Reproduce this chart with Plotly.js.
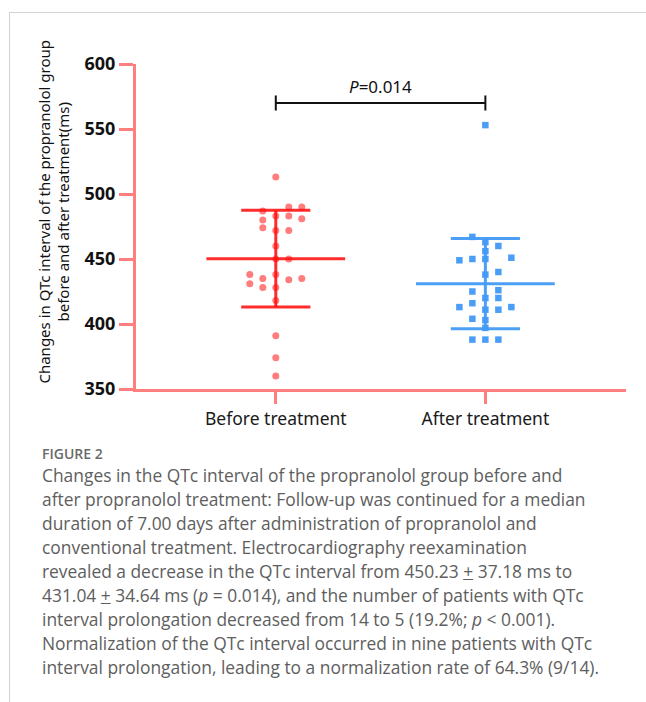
<!DOCTYPE html>
<html>
<head>
<meta charset="utf-8">
<script src="https://cdn.plot.ly/plotly-3.0.1.min.js"></script>
<style>
  html, body { margin: 0; padding: 0; background: #ffffff; }
  #page { position: relative; width: 646px; height: 702px; overflow: hidden; background: #fff; }
  #card { position: absolute; left: 9px; top: 12px; width: 640px; height: 700px;
          border-top: 1px solid #d2d2d2; border-left: 1px solid #d2d2d2; }
  #chart { position: absolute; left: 0; top: 0; width: 646px; height: 440px; }
  #figlabel { position: absolute; left: 42px; top: 447px; font-family: "Open Sans", sans-serif;
              font-size: 14px; font-weight: 600; color: #6a6a6a; line-height: 14px; }
  #caption { position: absolute; left: 42px; top: 463px; font-family: "Open Sans", sans-serif;
             font-size: 17.4px; color: #5e5e5e; line-height: 24px; white-space: nowrap; }
</style>
</head>
<body>
<div id="page">
  <div id="card"></div>
  <div id="chart"></div>
  <div id="figlabel">FIGURE 2</div>
  <div id="caption">
Changes in the QTc interval of the propranolol group before and<br>
after propranolol treatment: Follow-up was continued for a median<br>
duration of 7.00 days after administration of propranolol and<br>
conventional treatment. Electrocardiography reexamination<br>
revealed a decrease in the QTc interval from 450.23 <u>+</u> 37.18 ms to<br>
431.04 <u>+</u> 34.64 ms (<i>p</i> = 0.014), and the number of patients with QTc<br>
interval prolongation decreased from 14 to 5 (19.2%; <i>p</i> &lt; 0.001).<br>
Normalization of the QTc interval occurred in nine patients with QTc<br>
interval prolongation, leading to a normalization rate of 64.3% (9/14).
  </div>
</div>
<script>
// ---- data ----
const categories = ['Before treatment', 'After treatment'];
const beforeValues = [513, 490, 490, 487, 483, 483, 481, 480, 474, 472, 472, 460, 450, 450,
                      438, 438, 435, 434, 435, 431, 428, 428, 418, 391, 374, 360];
const beforeSlots  = [0, 1, 2, -1, 0, 1, 2, -1, -1, 0, 1, 0, 0, 1,
                      -2, 0, -1, 1, 2, -2, -1, 0, 0, 0, 0, 0];
const afterValues  = [553, 467, 463, 460, 456, 449, 450, 450, 451, 440, 438, 425, 426,
                      420, 420, 413, 416, 411, 411, 413, 404, 403, 397, 388, 388, 388];
const afterSlots   = [0, -1, 0, 1, 0, -2, -1, 0, 2, 1, 0, -1, 1,
                      0, 1, -2, -1, 0, 1, 2, -1, 0, 0, -1, 0, 1];
const groupMeans = [450.23, 431.04];
const groupSDs   = [37.18, 34.64];
const pLabel = 'P=0.014';
const yTicks = [350, 400, 450, 500, 550, 600];

// ---- styling / layout constants ----
const slotStep = 0.062;      // horizontal spacing of dot columns (x units)
const meanHalf = 0.331;
const capHalf = 0.165;
const bracketY = 570;
const axisColor = 'rgba(255,0,0,0.5)';
const redDot = 'rgba(255,45,45,0.62)';
const redLine = 'rgba(255,15,15,0.88)';
const blueDot = 'rgba(60,150,245,0.92)';
const blueLine = 'rgba(65,155,245,0.95)';

function dotTrace(values, slots, gi, color, symbol, size) {
  return {
    type: 'scatter', mode: 'markers',
    x: values.map((v, i) => gi + slots[i] * slotStep),
    y: values,
    marker: { color: color, symbol: symbol, size: size, line: { width: 0 } },
    hoverinfo: 'y', showlegend: false, cliponaxis: false
  };
}
function barTrace(gi, color) {
  const m = groupMeans[gi], s = groupSDs[gi];
  return {
    type: 'scatter', mode: 'lines',
    x: [gi - meanHalf, gi + meanHalf, null, gi, gi, null,
        gi - capHalf, gi + capHalf, null, gi - capHalf, gi + capHalf],
    y: [m, m, null, m - s, m + s, null, m + s, m + s, null, m - s, m - s],
    line: { color: color, width: 3 },
    hoverinfo: 'skip', showlegend: false
  };
}

const data = [
  dotTrace(beforeValues, beforeSlots, 0, redDot, 'circle', 7),
  dotTrace(afterValues, afterSlots, 1, blueDot, 'square', 6.5),
  barTrace(0, redLine),
  barTrace(1, blueLine)
];

const layout = {
  width: 646, height: 440,
  margin: { l: 136, r: 20, t: 64, b: 51, pad: 0 },
  paper_bgcolor: 'rgba(0,0,0,0)', plot_bgcolor: 'rgba(0,0,0,0)',
  font: { family: '"Noto Sans", "Open Sans", sans-serif', color: '#111' },
  xaxis: {
    range: [-0.667, 1.671], tickvals: [0, 1], ticktext: categories,
    showgrid: false, zeroline: false, showline: true, linecolor: axisColor, linewidth: 3,
    ticks: 'outside', ticklen: 12, tickwidth: 3, tickcolor: axisColor,
    tickfont: { size: 17.5, color: '#1a1a1a' }, fixedrange: true
  },
  yaxis: {
    range: [350, 600], tickvals: yTicks,
    showgrid: false, zeroline: false, showline: true, linecolor: axisColor, linewidth: 3,
    ticks: 'outside', ticklen: 14, tickwidth: 3, tickcolor: axisColor,
    tickfont: { size: 18, color: '#111', weight: 'bold' }, fixedrange: true
  },
  shapes: [
    { type: 'line', xref: 'x', yref: 'y', x0: 0, x1: 1, y0: bracketY, y1: bracketY,
      line: { color: '#111', width: 2 } },
    { type: 'line', xref: 'x', yref: 'y', x0: 0, x1: 0, y0: bracketY - 5.8, y1: bracketY + 5.8,
      line: { color: '#111', width: 2 } },
    { type: 'line', xref: 'x', yref: 'y', x0: 1, x1: 1, y0: bracketY - 5.8, y1: bracketY + 5.8,
      line: { color: '#111', width: 2 } }
  ],
  annotations: [
    { xref: 'x', yref: 'y', x: 0.5, y: bracketY, yshift: 17, showarrow: false,
      text: '<i>P</i>=' + pLabel.split('=')[1], font: { size: 17, color: '#111' },
      xanchor: 'center', yanchor: 'middle' },
    { xref: 'paper', yref: 'paper', x: -0.168, y: 0.545, showarrow: false, textangle: -90,
      xanchor: 'center', yanchor: 'middle', align: 'center',
      text: 'Changes in QTc interval of the propranolol group<br>before and after treatment(ms)',
      font: { size: 15, color: '#111' } }
  ]
};

Plotly.newPlot('chart', data, layout, { displayModeBar: false, staticPlot: true });
</script>
</body>
</html>
